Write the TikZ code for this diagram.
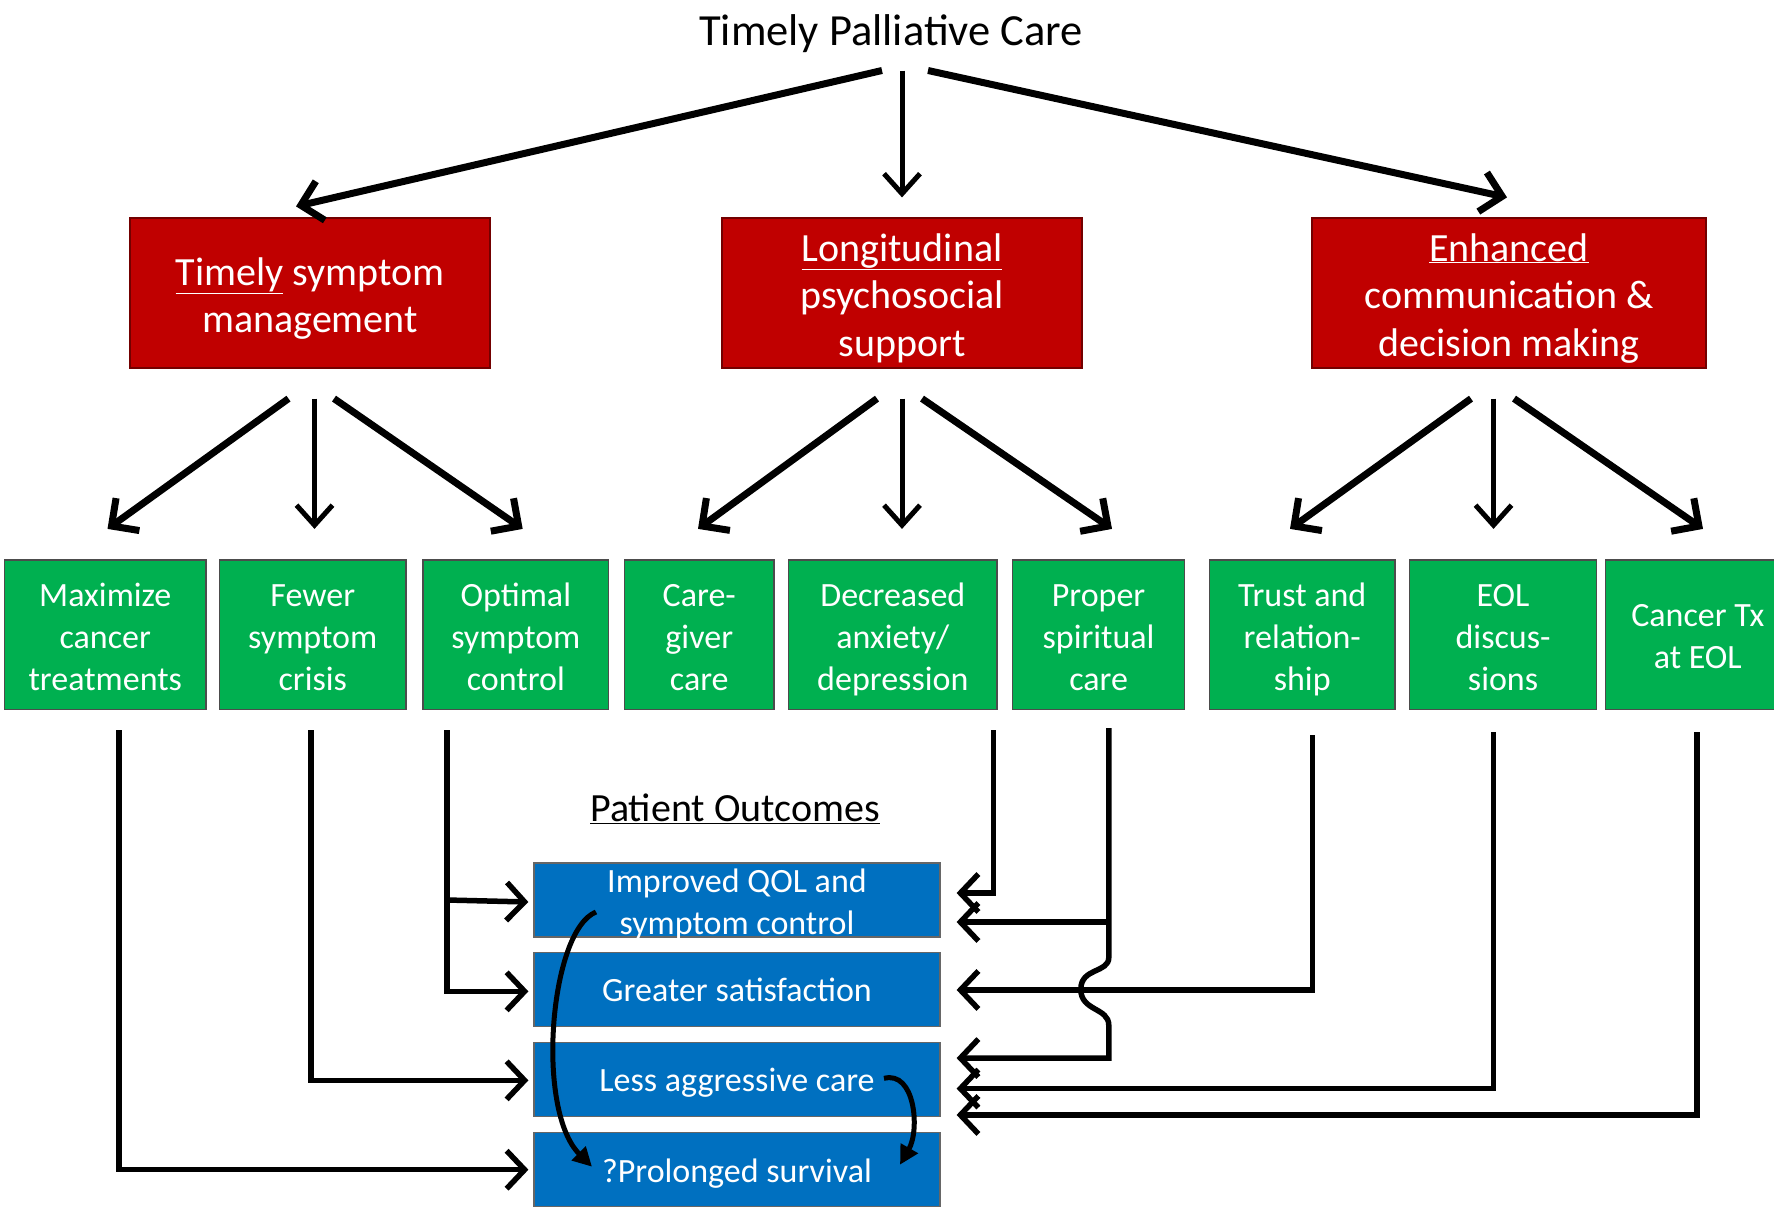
\documentclass[tikz,border=0pt]{standalone}
\usepackage{fontspec}
\setmainfont{Carlito}
\usetikzlibrary{arrows.meta,calc}
\definecolor{pcred}{HTML}{C00000}
\definecolor{pcgreen}{HTML}{00B050}
\definecolor{pcblue}{HTML}{0070C0}
\begin{document}
\begin{tikzpicture}[x=1pt,y=-1pt,
  redbox/.style={text height=126pt, text depth=0pt, draw=pcred!60!black, line width=1.2pt, fill=pcred, text=white, inner sep=0pt, align=center, minimum height=150pt, font=\fontsize{40}{47.5}\selectfont},
  greenbox/.style={text height=112pt, text depth=0pt, draw=black!70, line width=1.2pt, fill=pcgreen, text=white, inner sep=0pt, align=center, minimum height=149.5pt, font=\fontsize{34}{42}\selectfont},
  bluebox/.style={text height=25pt, text depth=0pt, draw=black!60, line width=1.2pt, fill=pcblue, text=white, inner sep=0pt, align=center, minimum width=406pt, minimum height=74pt, font=\fontsize{34}{42}\selectfont},
  diagarr/.style={line width=7pt, -{Straight Barb[length=20pt,width=40pt]}},
  vertarr/.style={line width=5pt, -{Straight Barb[length=20pt,width=36pt]}},
  conn/.style={line width=5.5pt, -{Straight Barb[length=18pt,width=38pt]}},
  curvarr/.style={line width=5pt, -{Triangle[length=19pt,width=19pt]}}
]
\useasboundingbox (0,0) rectangle (1774,1210);
\fill[white] (0,0) rectangle (1774,1210);

% title
\node[font=\fontsize{44.5}{52}\selectfont, inner sep=0pt] (title) at (891,33.5) {Timely Palliative Care};

% red boxes
\node[redbox, minimum width=360pt, text height=79pt] (r1) at (310,293) {\underline{Timely} symptom\\management};
\node[redbox, minimum width=360pt] (r2) at (902,293) {\underline{Longitudinal}\\psychosocial\\support};
\node[redbox, minimum width=394pt] (r3) at (1509,293) {\underline{Enhanced}\\communication \&\\decision making};

% green boxes
\node[greenbox, minimum width=201.5pt] (g1) at (105.25,634.75) {Maximize\\cancer\\treatments};
\node[greenbox, minimum width=186.5pt] (g2) at (312.75,634.75) {Fewer\\symptom\\crisis};
\node[greenbox, minimum width=185.7pt] (g3) at (515.85,634.75) {Optimal\\symptom\\control};
\node[greenbox, minimum width=149.5pt] (g4) at (699.25,634.75) {Care-\\giver\\care};
\node[greenbox, minimum width=208.4pt] (g5) at (892.8,634.75) {Decreased\\anxiety/\\depression};
\node[greenbox, minimum width=172pt] (g6) at (1098.6,634.75) {Proper\\spiritual\\care};
\node[greenbox, minimum width=185.5pt] (g7) at (1302.25,634.75) {Trust and\\relation-\\ship};
\node[greenbox, minimum width=186.7pt] (g8) at (1503.05,634.75) {EOL\\discus-\\sions};
\node[greenbox, minimum width=184.5pt, text height=67.4pt] (g9) at (1697.75,634.75) {Cancer Tx\\at EOL};

% patient outcomes
\node[font=\fontsize{40}{47}\selectfont, inner sep=0pt] (po) at (735,809) {\underline{Patient Outcomes}};
\node[bluebox, text height=68.4pt] (b1) at (737,900) {Improved QOL and\\symptom control};
\node[bluebox] (b2) at (737,989.35) {Greater satisfaction};
\node[bluebox] (b3) at (737,1079.35) {Less aggressive care};
\node[bluebox] (b4) at (737,1169.7) {?Prolonged survival};

% top arrows
\draw[diagarr] ($(title.center)+(-9,37)$) -- ($(r1.north)+(-14,-11)$);
\draw[vertarr] ($(title.center)+(11,37)$) -- ($(r2.north)+(0,-20)$);
\draw[diagarr] ($(title.center)+(37,37)$) -- ($(r3.north)+(-2,-20)$);

% red -> green
\draw[diagarr] ($(r1.south)+(-21.5,30)$) -- ($(g1.north)+(2.25,-30.5)$);
\draw[vertarr] ($(r1.south)+(4.5,30)$) -- ($(g2.north)+(1.75,-30.5)$);
\draw[diagarr] ($(r1.south)+(24,30)$) -- ($(g3.north)+(6.85,-30.5)$);
\draw[diagarr] ($(r2.south)+(-25,30)$) -- ($(g4.north)+(-1.25,-30.5)$);
\draw[vertarr] ($(r2.south)+(0,30)$) -- ($(g5.north)+(9.2,-30.5)$);
\draw[diagarr] ($(r2.south)+(20,30)$) -- ($(g6.north)+(13.4,-30.5)$);
\draw[diagarr] ($(r3.south)+(-38,30)$) -- ($(g7.north)+(-12.25,-30.5)$);
\draw[vertarr] ($(r3.south)+(-15.5,30)$) -- ($(g8.north)+(-9.55,-30.5)$);
\draw[diagarr] ($(r3.south)+(5,30)$) -- ($(g9.north)+(5.25,-30.5)$);

% start coordinates below green boxes
\coordinate (s1) at ($(g1.south)+(13.75,20)$);
\coordinate (s2) at ($(g2.south)+(-1.75,20)$);
\coordinate (s3) at ($(g3.south)+(-68.85,20)$);
\coordinate (s5) at ($(g5.south)+(100.6,20)$);
\coordinate (s6) at ($(g6.south)+(10.2,18)$);
\coordinate (s7) at ($(g7.south)+(10.15,25)$);
\coordinate (s8) at ($(g8.south)+(-9.55,22)$);
\coordinate (s9) at ($(g9.south)+(-0.75,22)$);

% left side connectors
\draw[conn] (s1) |- ($(b4.west)+(-5,0)$);
\draw[conn] (s2) |- ($(b3.west)+(-5,1)$);
\draw[conn] (s3) |- ($(b2.west)+(-5,2)$);
\draw[conn] (s3 |- b1.west) -- ($(b1.west)+(-5,2)$);

% right side connectors
\draw[conn] (s5) |- ($(b1.east)+(16,-7)$);
\coordinate (t6a) at ($(b1.east)+(16,22)$);
\draw[conn] (s6 |- t6a) -- (t6a);
\coordinate (h1) at ($(s6 |- b2.east)+(0,-32)$);
\coordinate (h2) at ($(s6 |- b2.east)+(0,36)$);
\draw[conn] (s6) -- (h1) .. controls ($(h1)+(0,16)$) and ($(h1)+(-28,10)$) .. ($(s6 |- b2.east)+(-28,0)$)
  .. controls ($(h2)+(-28,-14)$) and ($(h2)+(0,-18)$) .. (h2) |- ($(b3.east)+(16,-21.3)$);
\draw[conn] (s7) |- ($(b2.east)+(16,0.6)$);
\draw[conn] (s8) |- ($(b3.east)+(16,9.2)$);
\draw[conn] (s9) |- ($(b3.east)+(16,35.6)$);

% curved arrows
\draw[curvarr] ($(b1.center)+(-141,12)$) .. controls ($(b1.center)+(-187,30)$) and ($(b4.center)+(-202,-60)$) .. ($(b4.center)+(-145,-3)$);
\draw[curvarr] ($(b3.center)+(147,-1)$) .. controls ($(b3.center)+(178,-9)$) and ($(b4.center)+(183,-40)$) .. ($(b4.center)+(163,-5)$);
\end{tikzpicture}
\end{document}
